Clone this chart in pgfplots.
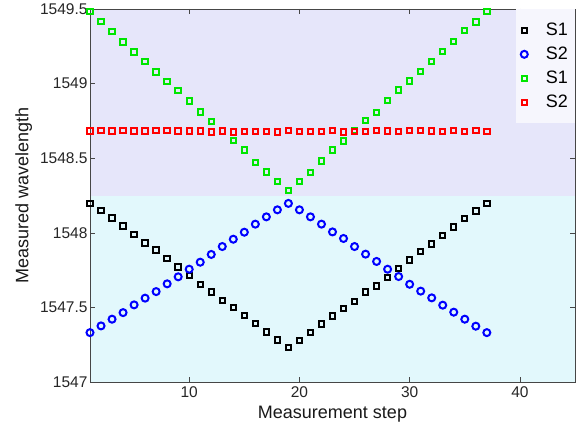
\documentclass[border=0pt]{standalone}
\usepackage{pgfplots}
\pgfplotsset{compat=1.18}
\usepackage{fontspec}
\setmainfont{Liberation Sans}
\definecolor{topbg}{RGB}{230,230,250}
\definecolor{botbg}{RGB}{226,248,252}
\definecolor{axgray}{RGB}{70,70,70}
\definecolor{mgreen}{RGB}{0,230,0}

\begin{document}
\begin{tikzpicture}
\begin{axis}[
    scale only axis,
    width=485pt, height=373pt,
    xmin=1, xmax=45, ymin=1547, ymax=1549.5,
    xtick={10,20,30,40},
    ytick={1547,1547.5,1548,1548.5,1549,1549.5},
    yticklabels={1547,1547.5,1548,1548.5,1549,1549.5},
    xticklabels={10,20,30,40},
    tick align=inside, major tick length=5pt,
    axis line style={axgray, line width=0.8pt},
    tick style={axgray, line width=0.6pt},
    ticklabel style={font=\fontsize{15.5}{18}\selectfont, text=black!85},
    yticklabel style={xshift=1pt},
    xticklabel style={yshift=-1pt},
    xlabel={Measurement step}, ylabel={Measured wavelength},
    label style={font=\fontsize{18}{21}\selectfont, text=black!90},
    xlabel style={yshift=-2pt}, ylabel style={yshift=1pt},
    axis on top, clip=false,
    legend style={at={(1,1)}, anchor=north east, draw=none,
        fill={rgb,255:red,246;green,246;blue,253},
        font=\fontsize{18}{21}\selectfont, row sep=6pt,
        column sep=16pt,
        inner xsep=5pt, inner ysep=12pt},
    legend cell align=left,
]
\addplot[draw=none, fill=botbg, forget plot] coordinates {(1,1547) (45,1547) (45,1548.25) (1,1548.25)} -- cycle;
\addplot[draw=none, fill=topbg, forget plot] coordinates {(1,1548.25) (45,1548.25) (45,1549.5) (1,1549.5)} -- cycle;

% S1 black
\addplot[only marks, mark=square, mark size=2.7pt, black, line width=2pt] coordinates {
(1,1548.197) (2,1548.148) (3,1548.098) (4,1548.045) (5,1547.987) (6,1547.931)
(7,1547.886) (8,1547.828) (9,1547.772) (10,1547.714) (11,1547.655) (12,1547.604)
(13,1547.548) (14,1547.499) (15,1547.445) (16,1547.394) (17,1547.336) (18,1547.282)
(19,1547.230) (20,1547.280) (21,1547.333) (22,1547.389) (23,1547.443) (24,1547.492)
(25,1547.541) (26,1547.602) (27,1547.644) (28,1547.702) (29,1547.761) (30,1547.817)
(31,1547.875) (32,1547.926) (33,1547.980) (34,1548.040) (35,1548.094) (36,1548.145)
(37,1548.195)};
% S2 blue
\addplot[only marks, mark=o, mark size=3.5pt, blue, line width=2pt] coordinates {
(1,1547.331) (2,1547.376) (3,1547.421) (4,1547.465) (5,1547.517) (6,1547.562)
(7,1547.606) (8,1547.658) (9,1547.705) (10,1547.756) (11,1547.803) (12,1547.855)
(13,1547.908) (14,1547.957) (15,1548.004) (16,1548.058) (17,1548.107) (18,1548.154)
(19,1548.197) (20,1548.154) (21,1548.107) (22,1548.058) (23,1548.006) (24,1547.962)
(25,1547.908) (26,1547.857) (27,1547.808) (28,1547.756) (29,1547.707) (30,1547.655)
(31,1547.609) (32,1547.564) (33,1547.515) (34,1547.468) (35,1547.421) (36,1547.374)
(37,1547.331)};
% S1 green
\addplot[only marks, mark=square, mark size=2.7pt, mgreen, line width=2pt] coordinates {
(1,1549.484) (2,1549.415) (3,1549.350) (4,1549.280) (5,1549.211) (6,1549.148)
(7,1549.078) (8,1549.013) (9,1548.953) (10,1548.883) (11,1548.809) (12,1548.744)
(13,1548.682) (14,1548.617) (15,1548.554) (16,1548.473) (17,1548.408) (18,1548.345)
(19,1548.285) (20,1548.345) (21,1548.406) (22,1548.480) (23,1548.554) (24,1548.614)
(25,1548.684) (26,1548.753) (27,1548.807) (28,1548.886) (29,1548.957) (30,1549.018)
(31,1549.081) (32,1549.148) (33,1549.217) (34,1549.283) (35,1549.357) (36,1549.413)
(37,1549.484)};
% S2 red
\addplot[only marks, mark=square, mark size=2.7pt, red, line width=2pt] coordinates {
(1,1548.682) (2,1548.686) (3,1548.682) (4,1548.684) (5,1548.682) (6,1548.682)
(7,1548.684) (8,1548.686) (9,1548.682) (10,1548.682) (11,1548.682) (12,1548.675)
(13,1548.682) (14,1548.675) (15,1548.679) (16,1548.677) (17,1548.677) (18,1548.675)
(19,1548.684) (20,1548.677) (21,1548.679) (22,1548.679) (23,1548.686) (24,1548.675)
(25,1548.677) (26,1548.677) (27,1548.684) (28,1548.682) (29,1548.679) (30,1548.686)
(31,1548.684) (32,1548.682) (33,1548.679) (34,1548.686) (35,1548.679) (36,1548.686)
(37,1548.679)};
\legend{S1,S2,S1,S2}
\end{axis}
\path ([shift={(-90pt,-44pt)}]current axis.south west) rectangle ([shift={(12pt,9pt)}]current axis.north east);
\end{tikzpicture}
\end{document}
